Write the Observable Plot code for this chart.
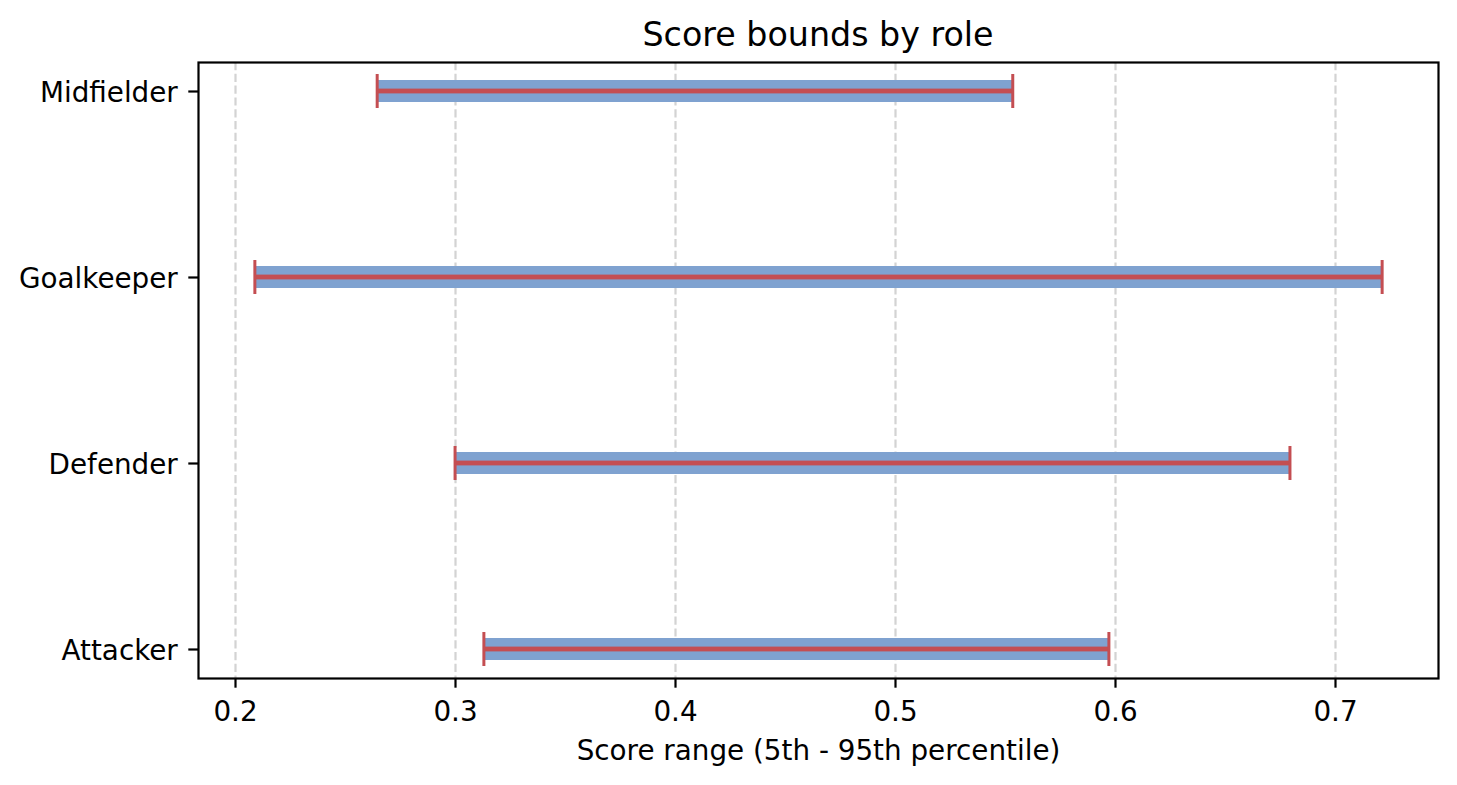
<!DOCTYPE html>
<html>
<head>
<meta charset="utf-8">
<script src="https://cdn.jsdelivr.net/npm/d3@7"></script>
<script src="https://cdn.jsdelivr.net/npm/@observablehq/plot@0.6"></script>
<style>
  html, body { margin: 0; padding: 0; background: #fff; }
  #title {
    width: 1240px; padding-left: 198px; height: 56px; box-sizing: content-box;
    padding-top: 0; text-align: center;
    font-family: "DejaVu Sans", sans-serif; font-size: 33.3px; line-height: 1; color: #000;
  }
  #title span { display: inline-block; padding-top: 18px; }
  #chart svg { display: block; }
</style>
</head>
<body>
<div id="title"><span>Score bounds by role</span></div>
<div id="chart"></div>
<script>
// Data
const roles = ["Attacker", "Defender", "Goalkeeper", "Midfielder"];
const lower = [0.3129, 0.2998, 0.2088, 0.2644];
const upper = [0.5970, 0.6793, 0.7212, 0.5533];
const xTicks = [0.2, 0.3, 0.4, 0.5, 0.6, 0.7];
const xTickLabels = ["0.2", "0.3", "0.4", "0.5", "0.6", "0.7"];
const xAxisLabel = "Score range (5th - 95th percentile)";

const data = roles.map((r, i) => ({role: r, lo: lower[i], hi: upper[i]}));
const dmin = d3.min(lower), dmax = d3.max(upper);
const pad = 0.05 * (dmax - dmin);

const blue = "#7fa2d0";
const red = "#c44e52";
const fs = 27.8;

const chart = Plot.plot({
  width: 1457,
  height: 729,
  marginTop: 6,
  marginBottom: 107,
  marginLeft: 198,
  marginRight: 19,
  style: {fontFamily: "DejaVu Sans, sans-serif", fontSize: fs + "px", background: "#fff", color: "#000"},
  x: {domain: [dmin - pad, dmax + pad]},
  y: {type: "band", domain: roles.slice().reverse(), paddingInner: 0.818, paddingOuter: 0.0587},
  marks: [
    Plot.gridX(xTicks, {stroke: "#d3d3d3", strokeOpacity: 1, strokeWidth: 2.2, strokeDasharray: "8.2,3.6"}),
    Plot.barX(data, {y: "role", x1: "lo", x2: "hi", fill: blue, insetTop: 6, insetBottom: 6}),
    Plot.barX(data, {y: "role", x1: "lo", x2: "hi", fill: red, insetTop: 14.6, insetBottom: 14.6}),
    Plot.tickX(data, {x: "lo", y: "role", stroke: red, strokeWidth: 3}),
    Plot.tickX(data, {x: "hi", y: "role", stroke: red, strokeWidth: 3}),
    Plot.frame({stroke: "#000", strokeWidth: 2.2}),
    Plot.axisX(xTicks, {
      tickSize: 9.7, tickPadding: 12.6, strokeWidth: 2.2, fontSize: fs, label: null,
      tickFormat: (d) => xTickLabels[xTicks.indexOf(d)]
    }),
    Plot.axisY({tickSize: 9.7, strokeWidth: 2.2, label: null, tickFormat: () => ""}),
    Plot.axisY({tickSize: 0, tickPadding: 20.7, fontSize: fs, label: null, dy: 1.5}),
    Plot.text([xAxisLabel], {frameAnchor: "bottom", lineAnchor: "top", dy: 61.5, fontSize: fs, fill: "#000"})
  ]
});
document.getElementById("chart").appendChild(chart);
</script>
</body>
</html>
